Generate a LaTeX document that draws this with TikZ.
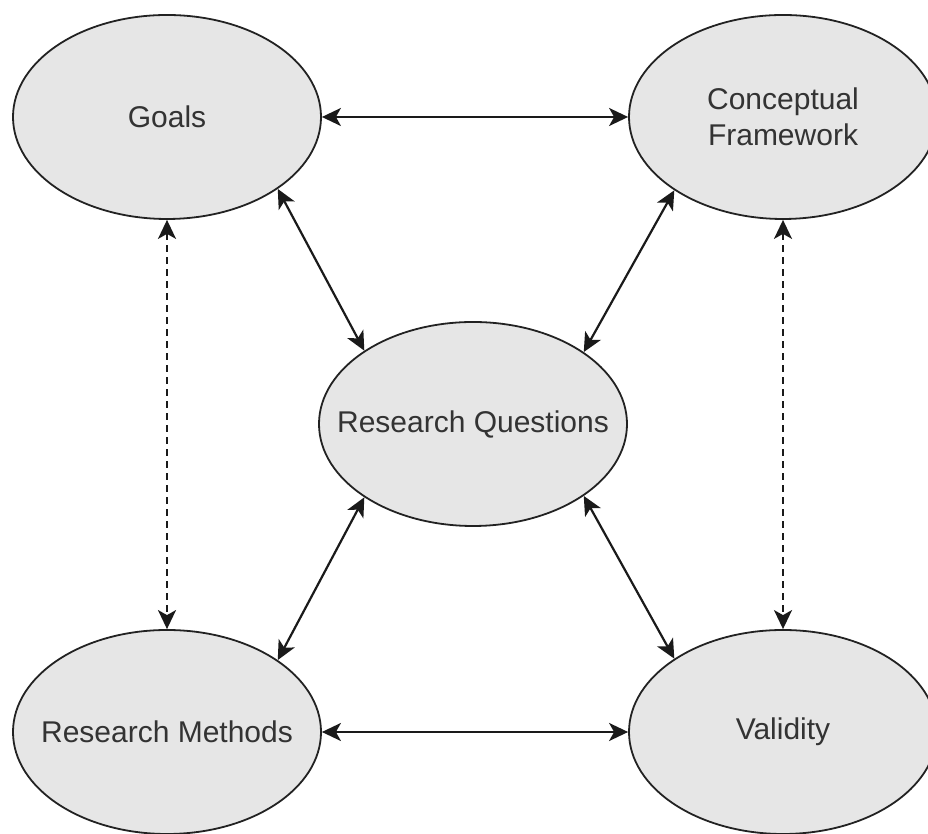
\documentclass[tikz,border=0pt]{standalone}
\usepackage{fontspec}
\setmainfont{Liberation Sans}
\usetikzlibrary{shapes.geometric,arrows.meta}
\definecolor{ellfill}{HTML}{E6E6E6}
\definecolor{ellline}{HTML}{222222}
\definecolor{txt}{HTML}{333333}
\definecolor{connc}{HTML}{1A1A1A}
\begin{document}
\begin{tikzpicture}[x=1pt,y=1pt,
  ell/.style={ellipse,draw=ellline,fill=ellfill,line width=1.8pt,
    minimum width=308pt,minimum height=204pt,inner sep=0pt,
    label={[text=txt,font=\fontsize{30}{36}\selectfont,align=center]center:#1}},
  conn/.style={line width=2.2pt,draw=connc,
    {Stealth[length=19pt,width=18pt,inset=5pt]}-{Stealth[length=19pt,width=18pt,inset=5pt]}},
  dconn/.style={conn,dash pattern=on 7pt off 5pt}]
\useasboundingbox (0,0) rectangle (928,834);
\node[ell={Goals}] (G)  at (167,717) {};
\node[ell={Conceptual\\Framework}] (CF) at (783,717) {};
\node[ell={Research Questions}] (RQ) at (473,410) {};
\node[ell={Research Methods}] (RM) at (167,102) {};
\node[ell={Validity}] (V)  at (783,102) {};
\draw[conn] (G.east) -- (CF.west);
\draw[conn] (RM.east) -- (V.west);
\draw[dconn] (G.south) -- (RM.north);
\draw[dconn] (CF.south) -- (V.north);
\draw[conn] (G.-33.6) -- (RQ.146.4);
\draw[conn] (CF.-146.4) -- (RQ.33.6);
\draw[conn] (RM.33.6) -- (RQ.-146.4);
\draw[conn] (V.146.4) -- (RQ.-33.6);
\end{tikzpicture}
\end{document}
